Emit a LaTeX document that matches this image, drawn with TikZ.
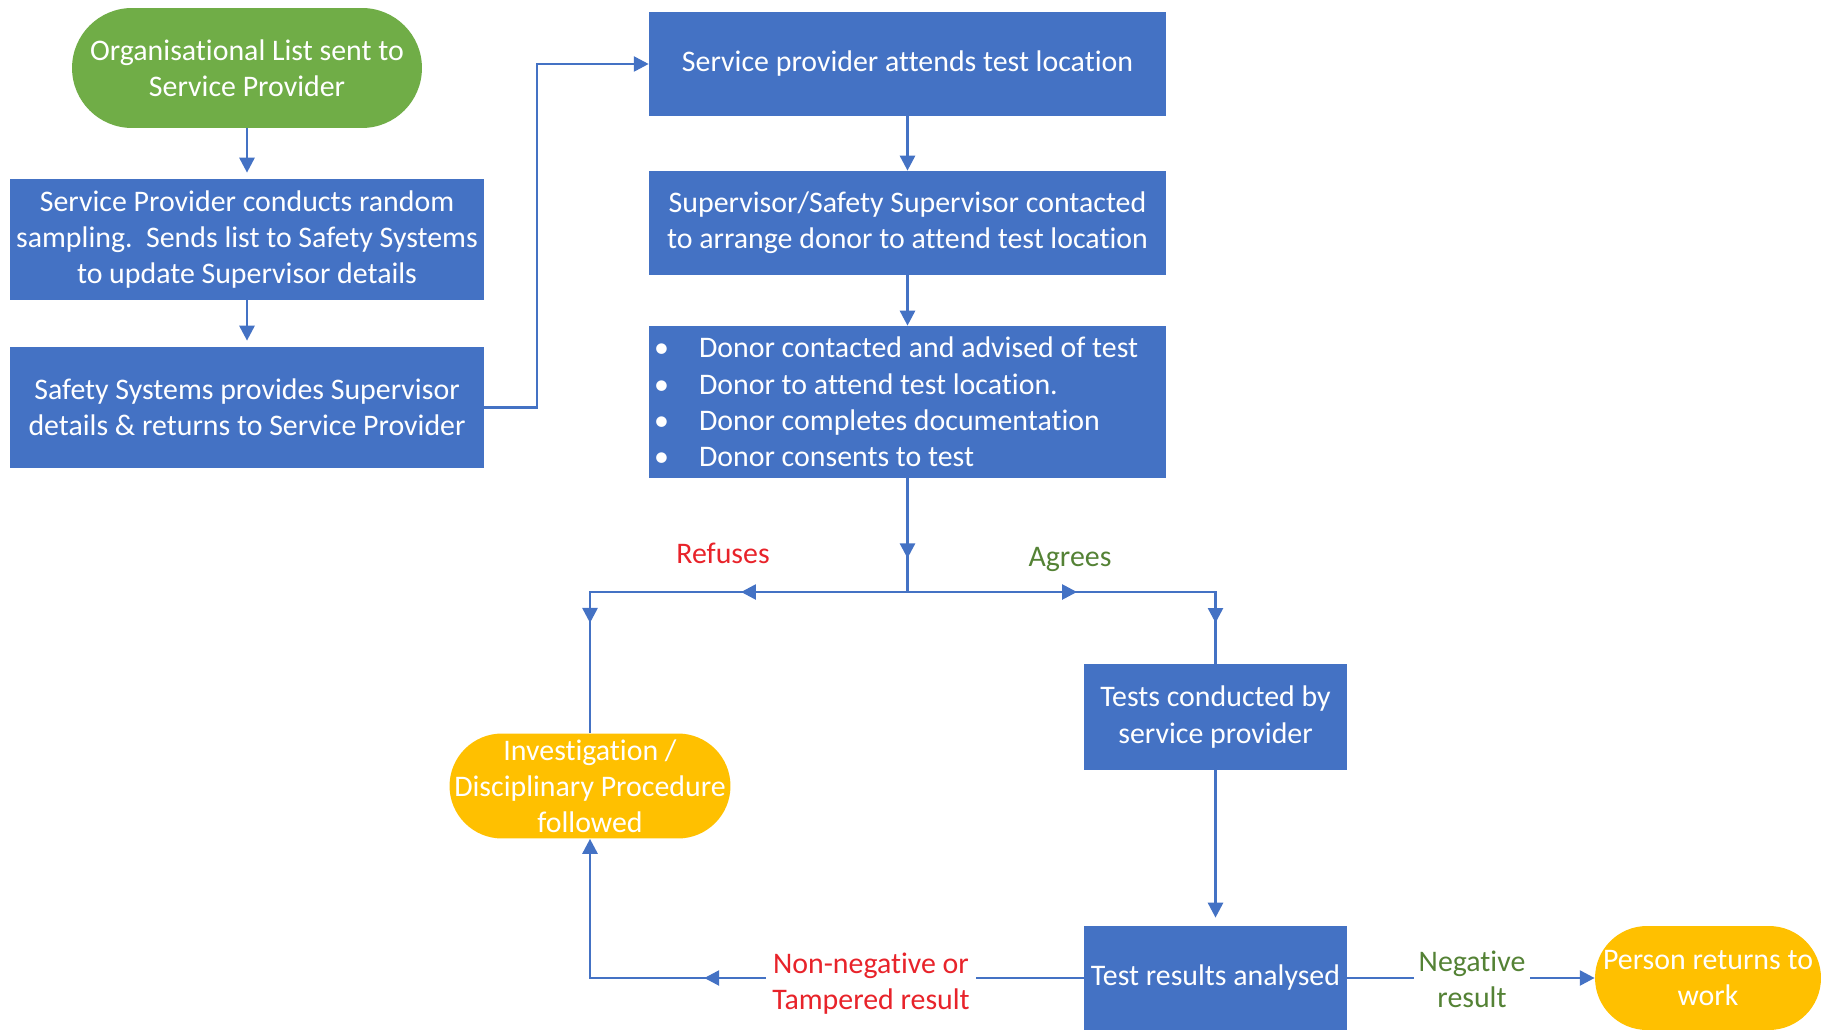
\documentclass[tikz,border=0pt]{standalone}
\usepackage{fontspec}
\setmainfont{Carlito}[Ligatures=NoCommon]
\usetikzlibrary{arrows.meta,positioning,decorations.markings}
\definecolor{boxblue}{HTML}{4472C4}
\definecolor{lineblue}{HTML}{4472C4}
\definecolor{startgreen}{HTML}{70AD47}
\definecolor{endyellow}{HTML}{FFC000}
\definecolor{refusered}{HTML}{E8232A}
\definecolor{agreegreen}{HTML}{548235}
\newcommand{\flowfont}{\fontsize{17}{20.6}\selectfont}
\tikzset{
  flow/.tip={Triangle[length=8.5pt,width=8.5pt]},
  procbox/.style={
    rectangle, fill=boxblue, text=white,
    font=\flowfont, align=center, inner sep=2pt
  },
  terminal/.style={
    rectangle, rounded corners=#1, text=white,
    font=\flowfont, align=center, inner sep=2pt
  },
  link/.style={draw=lineblue, line width=1.6pt},
  arr/.style={link, -flow},
  tipat/.style={postaction={decorate},
    decoration={markings, mark=at position #1 with {\arrow{flow}}}},
  tipsat/.style 2 args={postaction={decorate},
    decoration={markings, mark=at position #1 with {\arrow{flow}},
                          mark=at position #2 with {\arrow{flow}}}},
  choice/.style={font=\flowfont, align=center, inner sep=1pt},
}
\begin{document}
\begin{tikzpicture}[x=0.02cm, y=-0.02cm]
  \useasboundingbox (0,0) rectangle (1821,1033);

  % left column
  \node[terminal=1.2cm, fill=startgreen, minimum width=7cm, minimum height=2.4cm]
    (start) at (247,68) {Organisational List sent to\\Service Provider};
  \node[procbox, minimum width=9.48cm, minimum height=2.42cm]
    (sample) at (247,239.5) {Service Provider conducts random\\sampling.\ \ Sends list to Safety Systems\\to update Supervisor details};
  \node[procbox, minimum width=9.48cm, minimum height=2.42cm]
    (safety) at (247,407.5) {Safety Systems provides Supervisor\\details \& returns to Service Provider};

  % middle column
  \node[procbox, minimum width=10.34cm, minimum height=2.08cm]
    (attend) at (907.5,64) {Service provider attends test location};
  \node[procbox, minimum width=10.34cm, minimum height=2.08cm]
    (contact) at (907.5,223) {Supervisor/Safety Supervisor contacted\\to arrange donor to attend test location};
  \node[procbox, minimum width=10.34cm, minimum height=3.04cm,
        inner xsep=0.1cm, text width=10.14cm, align=flush left]
    (donor) at (907.5,402) {%
      \makebox[0.9cm][l]{\textbullet}Donor contacted and advised of test\\
      \makebox[0.9cm][l]{\textbullet}Donor to attend test location.\\
      \makebox[0.9cm][l]{\textbullet}Donor completes documentation\\
      \makebox[0.9cm][l]{\textbullet}Donor consents to test};

  % outcomes
  \node[terminal=1.05cm, fill=endyellow, minimum width=5.62cm, minimum height=2.1cm]
    (invest) at (590,786) {Investigation /\\Disciplinary Procedure\\followed};
  \node[procbox, minimum width=5.26cm, minimum height=2.12cm]
    (tests) at (1215.5,717) {Tests conducted by\\service provider};
  \node[procbox, minimum width=5.26cm, minimum height=2.08cm]
    (results) at (1215.5,978) {Test results analysed};
  \node[terminal=1.04cm, fill=endyellow, minimum width=4.52cm, minimum height=2.08cm]
    (person) at (1708,978) {Person returns to\\work};

  \coordinate (jog) at (537,240);
  \coordinate (split) at (907.5,592);

  % Arrows
  \draw[arr, shorten >=0.12cm] (start.south) -- (sample.north);
  \draw[arr, shorten >=0.12cm] (sample.south) -- (safety.north);
  \draw[arr] (safety.east) -- (safety.east -| jog) |- (attend.west);
  \draw[arr] (attend.south) -- (contact.north);
  \draw[arr] (contact.south) -- (donor.north);
  \draw[link, tipat=1.6cm] (donor.south) -- (split);
  \draw[link, tipsat={3.33cm}{6.97cm}] (split) -| (invest.north);
  \draw[link, tipsat={3.39cm}{6.78cm}] (split) -| (tests.north);
  \draw[arr, shorten >=0.16cm] (tests.south) -- (results.north);
  \draw[arr, tipat=7.59cm] (results.west) -| (invest.south);
  \draw[arr] (results.east) -- (person.west);

  % labels
  \node[choice, text=refusered] (refuse) at (723,553) {Refuses};
  \node[choice, text=agreegreen] (agree) at (1070,559) {Agrees};
  \node[choice, text=refusered, fill=white, inner xsep=0.12cm] (tamper) at (871,984)
    {Non-negative or\\Tampered result};
  \node[choice, text=agreegreen, fill=white, inner xsep=0.1cm] (negative) at (1472,979)
    {Negative\\result};
\end{tikzpicture}
\end{document}
